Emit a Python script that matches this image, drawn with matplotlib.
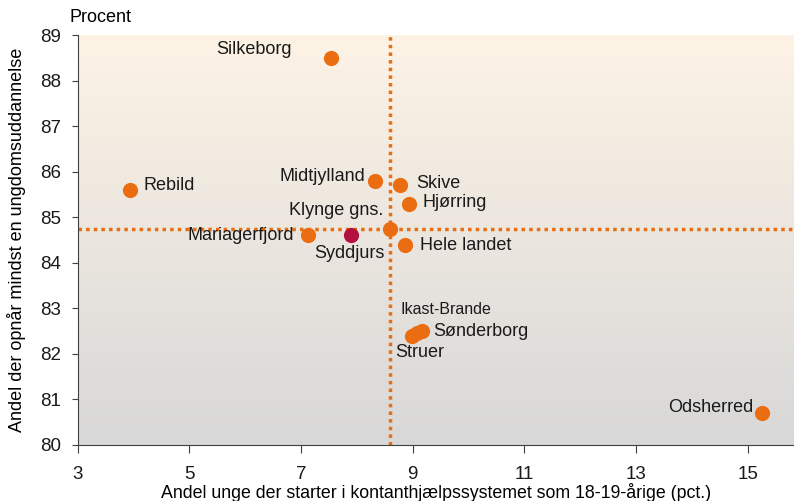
import numpy as np
import matplotlib
matplotlib.use("Agg")
import matplotlib.pyplot as plt
from matplotlib.colors import LinearSegmentedColormap

# data
names = ["Silkeborg", "Rebild", "Midtjylland", "Skive", "Hjørring", "Klynge gns.",
         "Hele landet", "Mariagerfjord", "Syddjurs", "Ikast-Brande", "Struer",
         "Sønderborg", "Odsherred"]
x_vals = [7.53, 3.93, 8.32, 8.77, 8.93, 8.59, 8.86, 7.12, 7.89, 9.08, 8.99, 9.16, 15.26]
y_vals = [88.5, 85.6, 85.8, 85.7, 85.3, 84.75, 84.4, 84.6, 84.6, 82.45, 82.4, 82.5, 80.7]
highlight = "Syddjurs"
x_ref = 8.6     # vertical reference line
y_ref = 84.75   # horizontal reference line

# label offsets in points (dx, dy, ha)
offsets = {
    "Silkeborg": (-28, 6, "right"),
    "Rebild": (10, 3, "left"),
    "Midtjylland": (-7, 3, "right"),
    "Skive": (12, 1, "left"),
    "Hjørring": (10, 1, "left"),
    "Klynge gns.": (-5, 13, "right"),
    "Hele landet": (11, -1, "left"),
    "Mariagerfjord": (-10, 0, "right"),
    "Syddjurs": (-1, -13, "center"),
    "Ikast-Brande": (-12, 17, "left"),
    "Struer": (-12, -12, "left"),
    "Sønderborg": (8, 0, "left"),
    "Odsherred": (-6, 4, "right"),
}

orange = "#EA6D12"
red = "#B4103C"

plt.rcParams['font.family'] = ['Liberation Sans', 'DejaVu Sans']

fig = plt.figure(figsize=(7.94, 5.01), dpi=100)
ax = fig.add_axes([0.098, 0.112, 0.902, 0.818])

cmap = LinearSegmentedColormap.from_list("bg", ["#FDF3E5", "#D8D8D8"])
grad = np.linspace(0, 1, 256).reshape(-1, 1)
ax.imshow(grad, cmap=cmap, aspect="auto", extent=[0, 1, 0, 1],
          transform=ax.transAxes, zorder=0)

ax.axvline(x_ref, color=orange, lw=2.5, ls=(0, (1, 1.2)), zorder=1)
ax.axhline(y_ref, color=orange, lw=2.5, ls=(0, (1, 1.2)), zorder=1)

for n, x, y in zip(names, x_vals, y_vals):
    c = red if n == highlight else orange
    ax.scatter(x, y, s=120, color=c, zorder=3, linewidths=0)
    dx, dy, ha = offsets[n]
    fs = 11.5 if n == "Ikast-Brande" else 13
    ax.annotate(n, (x, y), xytext=(dx, dy), textcoords="offset points",
                ha=ha, va="center", fontsize=fs, color="#1a1a1a", zorder=4)

ax.set_xlim(3, 15.83)
ax.set_ylim(80, 89)
ax.set_xticks([3, 5, 7, 9, 11, 13, 15])
ax.set_yticks(range(80, 90))
for s in ("top", "right"):
    ax.spines[s].set_visible(False)
for s in ("left", "bottom"):
    ax.spines[s].set_color("#404040")
ax.tick_params(axis="both", colors="#404040", labelcolor="#1a1a1a", labelsize=13.5)
ax.tick_params(axis="x", length=6, pad=9)
ax.tick_params(axis="y", length=4, pad=8)

ax.set_xlabel("Andel unge der starter i kontanthjælpssystemet som 18-19-årige (pct.)",
              fontsize=12.8, labelpad=0)
ax.set_ylabel("Andel der opnår mindst en ungdomsuddannelse", fontsize=13, labelpad=10)
fig.text(0.088, 0.966, "Procent", fontsize=13, ha="left", va="center")

fig.savefig("out.png", dpi=100)
